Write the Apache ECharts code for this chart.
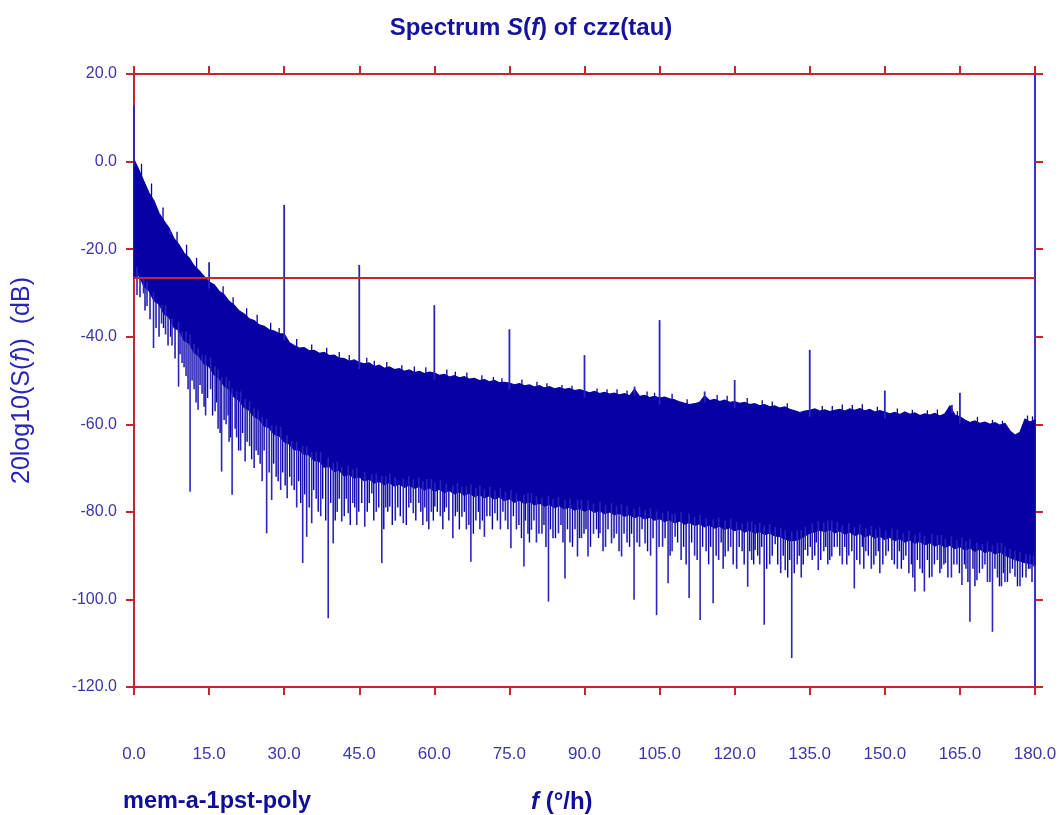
<!DOCTYPE html>
<html>
<head>
<meta charset="utf-8">
<script src="https://cdn.jsdelivr.net/npm/echarts@6/dist/echarts.min.js"></script>
<style>html,body{margin:0;padding:0;background:#fff}#c{width:1062px;height:815px}</style>
</head>
<body>
<div id="c"></div>
<script>
// Frequency step of the band samples (°/h); sample i sits at f = i * F_STEP
const F_STEP = 1;
// Upper edge of the dense noise band (dB), one value per 1 °/h from 0 to 180
const bandTop = [
0.5,-2.0,-4.6,-7.2,-9.0,-11.8,-13.6,-15.2,-17.6,-19.0,
-20.9,-22.0,-23.8,-24.9,-26.2,-27.5,-28.1,-29.6,-30.4,-31.9,
-32.8,-34.1,-34.8,-35.9,-36.3,-37.3,-37.6,-38.4,-38.7,-39.3,
-39.4,-41.3,-42.0,-42.6,-42.5,-43.2,-43.1,-43.8,-43.6,-44.3,
-44.2,-44.9,-45.0,-45.6,-45.3,-45.9,-46.2,-46.0,-46.8,-46.5,
-47.2,-46.9,-47.5,-47.3,-47.9,-47.6,-48.2,-47.9,-48.4,-48.1,
-48.3,-48.8,-48.6,-49.2,-48.9,-49.4,-49.1,-49.7,-49.5,-50.0,
-49.8,-50.3,-50.0,-50.5,-50.4,-50.6,-51.0,-50.7,-51.2,-51.0,
-51.5,-51.2,-51.7,-51.4,-51.9,-51.6,-52.0,-51.8,-52.3,-52.1,
-52.4,-52.8,-52.5,-53.0,-52.7,-53.1,-52.9,-53.3,-53.0,-53.5,
-52.0,-53.6,-53.4,-53.9,-53.6,-54.0,-53.8,-54.2,-54.4,-54.9,
-55.2,-55.5,-55.3,-55.0,-53.5,-54.6,-54.3,-54.8,-54.5,-55.0,
-54.8,-55.2,-55.0,-55.5,-55.3,-55.8,-55.5,-56.0,-55.8,-56.3,
-56.0,-56.6,-56.9,-57.3,-57.0,-56.8,-56.5,-57.0,-56.7,-57.1,
-56.8,-56.6,-57.0,-56.5,-56.8,-56.4,-56.9,-56.6,-57.2,-56.9,
-57.2,-57.6,-57.3,-57.8,-57.2,-57.7,-57.4,-58.0,-57.6,-57.9,
-57.5,-58.1,-57.6,-55.8,-57.9,-58.3,-59.0,-59.6,-59.2,-59.8,
-59.5,-60.0,-59.6,-60.2,-59.8,-61.5,-62.5,-61.8,-58.8,-59.5,
-59.0
];
// Lower edge of the solid part of the band (dB), same sampling
const bandBottom = [
-26.5,-26.0,-28.5,-29.5,-31.8,-32.5,-34.8,-35.5,-37.9,-38.6,
-40.8,-41.5,-43.6,-44.5,-46.2,-46.8,-48.7,-49.5,-51.2,-52.0,
-53.8,-54.5,-56.2,-56.8,-58.3,-58.8,-60.4,-60.8,-62.3,-62.6,
-64.0,-64.5,-65.8,-65.9,-66.9,-67.0,-68.3,-68.4,-69.8,-69.6,
-70.8,-70.5,-71.8,-71.4,-72.3,-72.0,-72.9,-72.5,-73.4,-73.0,
-73.8,-73.3,-74.1,-73.6,-74.4,-73.9,-74.6,-74.2,-75.0,-74.5,
-75.3,-74.8,-75.6,-75.1,-75.9,-75.4,-76.2,-75.7,-76.5,-76.0,
-76.8,-76.3,-77.1,-76.6,-77.4,-77.0,-77.8,-77.3,-78.1,-77.7,
-78.4,-78.0,-78.7,-78.3,-79.0,-78.6,-79.3,-78.9,-79.6,-79.2,
-79.8,-79.4,-80.1,-79.7,-80.4,-80.0,-80.7,-80.3,-81.0,-80.6,
-81.3,-80.9,-81.6,-81.2,-81.9,-81.5,-82.2,-81.8,-82.5,-82.1,
-82.8,-82.4,-83.1,-82.7,-83.4,-83.0,-83.7,-83.3,-84.0,-83.6,
-84.3,-83.9,-84.6,-84.2,-84.9,-84.5,-85.2,-84.8,-85.5,-85.6,
-86.2,-86.5,-86.6,-86.2,-85.5,-84.8,-84.6,-84.2,-84.5,-84.0,
-84.8,-84.3,-85.1,-84.6,-85.4,-84.9,-85.7,-85.2,-86.0,-85.5,
-86.3,-85.8,-86.6,-86.1,-86.9,-86.4,-87.2,-86.7,-87.5,-87.0,
-87.8,-87.3,-88.1,-87.6,-88.4,-87.9,-88.7,-88.2,-89.0,-88.5,
-89.3,-88.8,-89.6,-89.1,-89.9,-90.4,-90.9,-91.2,-91.6,-91.8,
-92.0
];
// Upward spectral lines [f (°/h), peak dB]
const peaks = [
[0,12.8],[7.2,-15.6],[15,-23.0],[30,-9.9],[45,-23.6],[60,-32.8],[75,-38.3],
[90,-44.2],[100,-51.4],[105,-36.2],[114,-52.5],[120,-49.9],[135,-43.0],
[150,-52.3],[163.4,-55.6],[165,-52.8]
];
// Small ripples above the band top [f (°/h), dB]
const topRipples = [
[1.5,-0.5],[3.5,-5],[5.8,-10.5],[8.6,-16],[10.5,-19],[12.5,-22],[17.8,-28.5],[19.8,-31],[22.5,-33.5],
[24.6,-35],[27.3,-36.8],[29.0,-38],[32.5,-40.5],[35.5,-41.8],[38.5,-42.5],[41.0,-43.5],[43.0,-44.2],
[46.5,-44.8],[48.0,-45.5],[50.5,-45.8],[53.5,-46.5],[56.0,-46.8],[58.3,-47],[62.5,-47.5],[64.2,-48],
[66.5,-48.2],[69.5,-48.8],[71.8,-49.2],[73.5,-49.5],[77.5,-49.8],[80.5,-50.3],[82.5,-50.6],[85.5,-51],
[87.5,-51.2],[92.5,-51.8],[94.5,-52],[96.5,-52],[98.5,-52.3],[102.5,-52.5],[104.0,-52.8],[107.5,-53],
[110.5,-54.3],[116.5,-53.3],[118.5,-53.5],[122.5,-54],[125.5,-54.5],[127.5,-54.8],[130.5,-55.2],
[137.5,-55.8],[139.5,-55.8],[141.5,-55.5],[143.5,-55.6],[145.5,-55.4],[148.5,-56],[152.5,-56.4],
[155.5,-56.7],[158.5,-56.8],[160.5,-56.6],[164.5,-57],[168.5,-58.3],[171.5,-59],[173.5,-59.2],
[178.5,-58],[179.5,-58.2]
];
// Deep dips below the band [f (°/h), minimum dB]
const dips = [
[0.6,-30.5],[1.9,-30.1],[2.6,-33],[3.9,-42.6],[5.5,-37],[6.3,-39.5],[7.6,-42],[8.9,-51.4],[9.6,-46],
[10.4,-49],[11.2,-75.4],[12.0,-52],[12.8,-56.7],[13.6,-53],[14.3,-58],[15.3,-52],[16.2,-57],[16.8,-61],
[17.5,-70.8],[18.4,-60],[19.0,-64],[19.6,-76.1],[20.5,-63],[21.3,-66],[22.2,-68.5],[23.1,-65],[24.0,-70],
[24.8,-67],[25.6,-73],[26.5,-84.9],[27.5,-77.3],[28.4,-72],[29.3,-75],[30.6,-76.9],[31.5,-74],[32.5,-79],
[33.7,-91.7],[34.5,-85.7],[35.5,-82.6],[36.4,-77],[37.3,-81],[38.8,-104.3],[39.8,-87.2],[40.6,-80],
[41.5,-82.2],[42.8,-80.3],[43.7,-78],[44.5,-83],[46.1,-83.4],[47.5,-75.8],[48.4,-80],[49.5,-91.7],
[50.3,-79],[51.1,-78.8],[52.2,-82],[53.8,-82.6],[54.9,-79],[55.8,-80.3],[56.9,-78],[57.7,-83],[58.5,-82.2],
[59.4,-80],[60.1,-78.8],[61.2,-81],[62.4,-79],[63.7,-86.0],[64.6,-80],[65.5,-81.1],[66.4,-84],[67.3,-91.4],
[68.3,-82],[69.1,-84],[70.0,-85.7],[71.1,-81],[72.1,-80.3],[73.2,-84],[74.2,-82],[75.3,-88.3],[76.4,-84],
[77.9,-92.5],[78.7,-85],[79.4,-84.1],[80.4,-87],[81.5,-85],[82.8,-100.5],[83.7,-86],[84.8,-84.9],
[86.1,-95.2],[87.1,-87],[88.6,-90.2],[89.4,-86],[90.7,-90.2],[91.8,-85],[93.1,-84.9],[94.2,-88],
[95.4,-87.2],[96.4,-85],[97.4,-90.2],[98.5,-87],[99.9,-100.1],[101.0,-88],[102.1,-87.2],[103.2,-90],
[104.4,-103.6],[105.6,-88],[106.7,-96.3],[107.5,-89],[108.1,-85.7],[109.3,-91],[110.9,-99.7],[112.0,-90],
[113.1,-104.7],[114.3,-89],[115.7,-100.9],[116.8,-91],[118.1,-90.2],[119.2,-88],[120.4,-93],[121.5,-89],
[122.6,-97.1],[123.4,-91],[124.1,-88.7],[125.0,-92],[125.9,-105.8],[127.0,-92],[128.1,-87.4],[129.2,-94],
[130.1,-93.3],[131.4,-113.4],[132.5,-92],[133.3,-95],[134.1,-88.7],[135.5,-91],[136.7,-93.3],[137.8,-89],
[138.6,-92],[139.4,-90.2],[140.5,-88],[141.5,-92],[142.8,-90],[143.9,-97.5],[145.0,-92],[146.2,-89],
[147.3,-93],[148.2,-90],[149.0,-94.0],[150.2,-90],[151.4,-91.0],[152.5,-93],[153.7,-91.0],[154.8,-94],
[156.0,-98.2],[157.0,-93],[157.9,-98.2],[159.4,-94.8],[160.5,-91],[161.3,-93],[162.1,-91.7],[163.3,-95],
[164.4,-92],[165.4,-96.7],[166.2,-93],[167.0,-105.1],[168.4,-95.6],[169.5,-93],[170.5,-96],[171.5,-107.4],
[172.5,-95],[173.3,-97],[174.0,-96.0],[175.0,-94],[176.0,-94.8],[177.0,-97],[178.2,-95],[179.0,-93],
[179.7,-92.5]
];
// Shallow dips that make the ragged lower edge [f (°/h), minimum dB]
const shallowDips = [
[1.2,-31],[2.2,-34],[3.2,-36],[4.4,-38],[5.0,-40],[5.9,-38],[6.8,-42],[7.3,-40],[8.2,-45],[9.2,-44],
[10.0,-47],[10.8,-52],[11.6,-50],[12.4,-55],[13.2,-51],[14.0,-56],[14.7,-54],[15.7,-58],[16.5,-55],
[17.2,-62],[18.0,-59],[18.8,-58],[19.3,-63],[20.2,-61],[20.9,-66],[21.7,-62],[22.6,-64],[23.5,-68],
[24.4,-66],[25.2,-69],[26.0,-66],[27.0,-71],[27.9,-69],[28.8,-73],[29.7,-71],[30.2,-74],[31.1,-72],
[32.0,-75],[32.9,-73],[33.3,-78],[34.1,-76],[35.0,-79],[35.9,-75],[36.8,-80],[37.7,-77],[38.3,-82],
[39.3,-78],[40.2,-82],[41.0,-77],[42.0,-81],[42.4,-77],[43.2,-83],[44.1,-79],[44.9,-80],[45.5,-78],
[46.6,-80],[47.0,-78],[47.9,-82],[48.9,-79],[49.9,-84],[50.7,-80],[51.6,-83],[52.7,-79],[53.2,-81],
[54.4,-83],[55.3,-78],[56.3,-82],[57.3,-80],[58.1,-79],[58.9,-84],[59.8,-82],[60.6,-80],[61.7,-84],
[62.0,-80],[62.9,-82],[64.2,-81],[65.0,-84],[66.0,-80],[66.9,-83],[67.8,-85],[68.8,-80],[69.6,-82],
[70.5,-81],[71.6,-84],[72.6,-82],[73.7,-80],[74.7,-84],[75.8,-81],[76.9,-83],[77.4,-86],[78.2,-82],
[79.0,-87],[79.9,-82],[80.9,-85],[81.9,-83],[82.3,-88],[83.2,-84],[84.2,-86],[85.3,-83],[85.7,-87],
[86.6,-84],[87.6,-88],[88.1,-84],[89.0,-86],[89.9,-85],[90.3,-84],[91.2,-88],[92.4,-84],[92.8,-86],
[93.7,-89],[94.7,-84],[95.9,-86],[96.9,-89],[97.9,-85],[99.0,-88],[99.4,-85],[100.5,-87],[101.5,-84],
[102.6,-89],[103.7,-86],[104.9,-88],[106.1,-86],[107.1,-90],[108.6,-87],[109.8,-88],[110.3,-92],
[111.4,-87],[112.5,-91],[113.6,-88],[114.8,-92],[115.2,-88],[116.3,-90],[117.3,-87],[117.7,-93],
[118.7,-89],[119.7,-92],[120.9,-88],[121.9,-92],[123.0,-89],[123.8,-92],[124.6,-90],[125.4,-88],
[126.4,-93],[127.5,-90],[128.6,-92],[129.7,-90],[130.6,-95],[131.0,-91],[131.9,-94],[132.9,-90],
[133.7,-92],[134.6,-90],[135.1,-88],[136.0,-90],[136.3,-87],[137.2,-91],[138.2,-88],[139.0,-91],
[139.9,-88],[141.0,-90],[142.0,-88],[142.4,-92],[143.4,-89],[144.4,-91],[145.5,-88],[145.8,-93],
[146.7,-90],[147.8,-92],[148.7,-89],[149.6,-92],[150.7,-89],[151.9,-92],[152.9,-89],[153.3,-93],
[154.2,-90],[155.3,-92],[155.6,-95],[156.5,-91],[157.5,-94],[158.5,-91],[158.9,-95],[159.9,-92],
[161.0,-94],[161.8,-92],[162.6,-95],[163.8,-92],[164.9,-94],[165.9,-92],[166.6,-96],[167.6,-93],
[168.0,-97],[168.9,-94],[170.0,-92],[171.0,-96],[172.0,-93],[172.9,-97],[173.7,-94],[174.5,-96],
[175.5,-93],[176.5,-97],[177.5,-95],[178.7,-93],[179.4,-96]
];
// Horizontal reference level (dB)
const refLevel = -26.6;
// Axis ranges and ticks
const xMin = 0, xMax = 180, xStep = 15;
const yMin = -120, yMax = 20, yStep = 20;
const titleText = 'Spectrum ';
const xName = ' (°/h)';
const runLabel = 'mem-a-1pst-poly';

const BLUE = '#0800a4';
const LINE_BLUE = '#2a24bc';
const RED = '#c4262c';
const TEXT_DARK = '#100e98';
const FONT = '"Liberation Sans", Arial, sans-serif';

function nearestIdx(f){ return Math.max(0, Math.min(bandTop.length-1, Math.round(f / F_STEP))); }

function segmentSeries(name, list, baseArr, baseOffset, color, width){
  return {
    name:name, type:'custom', xAxisIndex:0, yAxisIndex:0, z:3,
    data:list.map(p => [p[0], p[1], baseArr[nearestIdx(p[0])] + baseOffset]),
    renderItem:function(params, api){
      const a = api.coord([api.value(0), api.value(2)]);
      const b = api.coord([api.value(0), api.value(1)]);
      return {type:'line', shape:{x1:a[0], y1:a[1], x2:b[0], y2:b[1]},
        style:{stroke:color, lineWidth:width}};
    }
  };
}

const chart = echarts.init(document.getElementById('c'), null, {renderer:'canvas'});

const option = {
  backgroundColor:'#ffffff',
  animation:false,
  title:{
    left:'center', top:11,
    text:'{n|' + titleText + '}{i|S}{n|(}{i|f}{n|) of czz(tau)}',
    textStyle:{
      rich:{
        n:{fontFamily:FONT, fontSize:24, fontWeight:'bold', color:'#1612a0'},
        i:{fontFamily:FONT, fontSize:24, fontWeight:'bold', fontStyle:'italic', color:'#1612a0'}
      }
    }
  },
  grid:{left:134, right:27, top:74, bottom:128, containLabel:false},
  xAxis:[
    {
      type:'value', position:'bottom', min:xMin, max:xMax, interval:xStep, splitLine:{show:false},
      axisLine:{show:true, onZero:false, lineStyle:{color:RED, width:2}},
      axisTick:{show:true, inside:false, length:8, lineStyle:{color:RED, width:2}},
      axisLabel:{show:true, margin:59, color:'#3a36ac', fontSize:17, fontFamily:FONT,
        formatter:v => v.toFixed(1)}
    },
    {
      type:'value', position:'top', min:xMin, max:xMax, interval:xStep, splitLine:{show:false},
      axisLine:{show:true, onZero:false, lineStyle:{color:RED, width:2}},
      axisTick:{show:true, inside:false, length:8, lineStyle:{color:RED, width:2}},
      axisLabel:{show:false}
    }
  ],
  yAxis:[
    {
      type:'value', position:'left', min:yMin, max:yMax, interval:yStep, splitLine:{show:false},
      axisLine:{show:true, onZero:false, lineStyle:{color:RED, width:2}},
      axisTick:{show:true, inside:false, length:8, lineStyle:{color:RED, width:2}},
      axisLabel:{show:true, margin:17, color:'#3a36ac', fontSize:16, fontFamily:FONT,
        formatter:v => v.toFixed(1)},
      name:'{n|20log10(S(}{i|f}{n|))  (dB)}',
      nameLocation:'middle', nameRotate:90, nameGap:99,
      nameTextStyle:{
        rich:{
          n:{fontFamily:FONT, fontSize:25, color:'#2824b8'},
          i:{fontFamily:FONT, fontSize:25, fontStyle:'italic', color:'#2824b8'}
        }
      }
    },
    {
      type:'value', position:'right', min:yMin, max:yMax, interval:yStep, splitLine:{show:false},
      axisLine:{show:true, onZero:false, lineStyle:{color:'#3a32d0', width:2}},
      axisTick:{show:true, inside:false, length:8, lineStyle:{color:RED, width:2}},
      axisLabel:{show:false}
    }
  ],
  graphic:[
    {type:'text', left:123, top:790, z:10,
      style:{text:runLabel, fontFamily:FONT, fontSize:23.5, fontWeight:'bold', fill:TEXT_DARK}},
    {type:'text', left:531, top:790, z:10,
      style:{text:'{i|f}{n|' + xName + '}', fill:TEXT_DARK,
        fontFamily:FONT, fontSize:24, fontWeight:'bold',
        rich:{
          i:{fontFamily:FONT, fontSize:24, fontWeight:'bold', fontStyle:'italic', fill:TEXT_DARK},
          n:{fontFamily:FONT, fontSize:24, fontWeight:'bold', fill:TEXT_DARK}
        }}}
  ],
  series:[
    {
      name:'band', type:'custom', xAxisIndex:0, yAxisIndex:0, z:2,
      data:[[0, 0]],
      renderItem:function(params, api){
        const pts = [];
        for (let i = 0; i < bandTop.length; i++) pts.push(api.coord([i*F_STEP, bandTop[i]]));
        for (let i = bandBottom.length-1; i >= 0; i--) pts.push(api.coord([i*F_STEP, bandBottom[i]]));
        return {type:'polygon', shape:{points:pts}, style:{fill:BLUE, stroke:BLUE, lineWidth:1.2}};
      }
    },
    segmentSeries('ripples', topRipples, bandTop, -1.5, BLUE, 1.3),
    segmentSeries('shallow', shallowDips, bandBottom, 2, BLUE, 1.4),
    segmentSeries('dips', dips, bandBottom, 2, LINE_BLUE, 1.6),
    segmentSeries('peaks', peaks, bandTop, -1.5, LINE_BLUE, 1.8),
    {
      name:'ref', type:'line', xAxisIndex:0, yAxisIndex:0, data:[], z:5,
      markLine:{silent:true, symbol:'none', label:{show:false}, animation:false,
        lineStyle:{color:RED, width:2, type:'solid'},
        data:[[{coord:[xMin, refLevel]}, {coord:[xMax, refLevel]}]]}
    }
  ]
};
chart.setOption(option);
</script>
</body>
</html>
